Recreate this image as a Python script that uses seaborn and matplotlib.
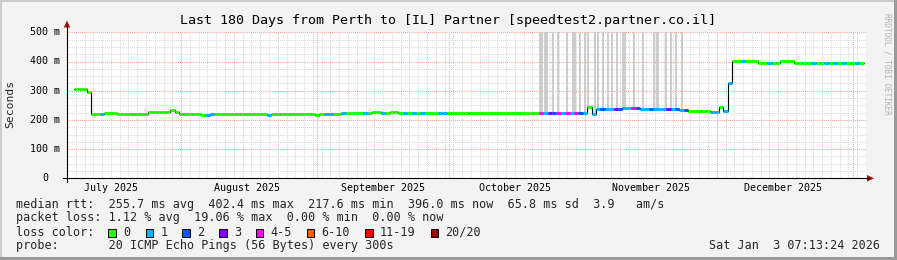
import numpy as np
import pandas as pd
import matplotlib
matplotlib.use("Agg")
import matplotlib.pyplot as plt
import matplotlib.dates as mdates
from matplotlib.patches import Rectangle, Polygon
from matplotlib.lines import Line2D
import seaborn as sns

# ---------------- data ----------------
TITLE = "Last 180 Days from Perth to [IL] Partner [speedtest2.partner.co.il]"
START = "2025-07-07 12:00"
N_DAYS = 180

# median RTT (ms) as runs: number of days, value
med_run_days = [3, 1, 3, 3, 7, 5, 1, 1, 5, 2, 13, 1, 10, 1, 5,
                2, 1, 2, 1, 1, 2, 2, 2, 1, 1, 5,
                20, 16, 1, 1, 6, 4, 9, 2, 5, 2, 1, 1, 1, 6, 5, 3, 16]
med_run_ms = [306, 297, 220, 225, 220, 226, 233, 226, 221, 217, 221, 217, 221, 217, 221,
              225, 222, 225, 222, 225, 226, 222, 226, 222, 225, 222,
              222, 224, 245, 220, 236, 240, 236, 234, 231, 228, 244, 231, 326, 403, 395, 403, 396]

# packet-loss class per day as runs: number of days, class index
loss_run_days = [6, 1, 23, 2, 12, 1, 12, 2, 2, 1, 4, 1, 3, 1, 4, 1, 1, 1, 1, 1, 3, 2, 21,
                 1, 1, 1, 1, 1, 1, 1, 1, 1, 1, 1, 1,
                 2, 1, 2, 1, 1, 2, 1, 1, 2, 1, 3, 1, 1, 1, 1, 1,
                 5, 2, 1, 2, 2, 1, 5, 1, 9, 1, 2, 1, 1, 1, 1, 1, 2, 1, 1]
loss_run_cls = [0, 1, 0, 1, 0, 1, 0, 1, 0, 1, 0, 1, 0, 1, 0, 1, 0, 1, 0, 1, 0, 1, 0,
                4, 1, 3, 2, 4, 1, 4, 1, 4, 2, 1, 0,
                1, 2, 1, 3, 2, 1, 4, 2, 1, 2, 1, 3, 1, 2, 1, 2,
                0, 1, 0, 1, 0, 1, 0, 1, 0, 1, 0, 1, 0, 1, 0, 1, 0, 1, 0]

loss_names = ["0", "1", "2", "3", "4-5", "6-10", "11-19", "20/20"]
loss_colors = ["#26ff00", "#00b8ff", "#0059ff", "#7e00ff", "#ff00ff", "#ff5e00", "#ff0000", "#a10000"]

# smoke: single pings far above the median (days since start), reaching off the top
smoke_day = [106.2, 106.7, 107.3, 107.8, 109.1, 110.3, 112.5, 113.7, 114.3, 115.4, 116.6,
             117.2, 118.8, 119.5, 120.6, 121.7, 122.6, 123.8, 125.1, 125.6, 127.6, 129.8,
             132.3, 132.8, 133.2, 135.0, 136.1, 137.3, 138.6]
smoke_top_ms = 520

month_starts = ["2025-08-01", "2025-09-01", "2025-10-01", "2025-11-01", "2025-12-01", "2026-01-01"]
month_mids = ["2025-07-16", "2025-08-16", "2025-09-16", "2025-10-16", "2025-11-16", "2025-12-16"]
month_labels = ["July 2025", "August 2025", "September 2025", "October 2025",
                "November 2025", "December 2025"]
y_ticks = [0, 100, 200, 300, 400, 500]
y_labels = ["0", "100 m", "200 m", "300 m", "400 m", "500 m"]

rtt_line = "median rtt:  255.7 ms avg  402.4 ms max  217.6 ms min  396.0 ms now  65.8 ms sd  3.9   am/s"
loss_line = "packet loss: 1.12 % avg  19.06 % max  0.00 % min  0.00 % now"
color_head = "loss color:"
probe_line = "probe:       20 ICMP Echo Pings (56 Bytes) every 300s"
stamp = "Sat Jan  3 07:13:24 2026"
watermark = "RRDTOOL / TOBI OETIKER"

# ---------------- figure ----------------
sns.set_theme(style="white")
plt.rcParams["font.family"] = ["DejaVu Sans Mono", "DejaVu Sans"]
plt.rcParams["axes.axisbelow"] = True

W, H = 897, 260
fig = plt.figure(figsize=(W / 100, H / 100), dpi=100)
fig.patch.set_facecolor("#f3f3f3")

X0, X1, Y0, Y1 = 67, 866, 178.3, 32.3
ax = fig.add_axes([X0 / W, 1 - Y0 / H, (X1 - X0) / W, (Y0 - Y1) / H])
ax.set_facecolor("white")
for s in ax.spines.values():
    s.set_visible(False)

t0 = pd.Timestamp(START)
edges = t0 + pd.to_timedelta(np.arange(N_DAYS + 1), unit="D")
med = np.repeat(med_run_ms, med_run_days).astype(float)
loss = np.repeat(loss_run_cls, loss_run_days)

# smoke
sm_t = mdates.date2num(t0 + pd.to_timedelta(smoke_day, unit="D"))
sm_base = med[np.floor(smoke_day).astype(int)]
ax.vlines(sm_t, sm_base, smoke_top_ms, color="#c9c9c9", lw=1.3, zorder=2)

# black step outline of median
step_df = pd.DataFrame({"t": edges, "ms": np.append(med, med[-1])})
sns.lineplot(data=step_df, x="t", y="ms", drawstyle="steps-post", color="black",
             lw=0.8, estimator=None, ax=ax, zorder=3)

# loss-coloured median segments
seg = pd.DataFrame({
    "t": np.concatenate([edges[:-1], edges[1:]]),
    "ms": np.concatenate([med, med]),
    "uid": np.tile(np.arange(N_DAYS), 2),
    "loss": np.tile([loss_names[c] for c in loss], 2),
})
sns.lineplot(data=seg, x="t", y="ms", hue="loss", units="uid", estimator=None,
             palette=dict(zip(loss_names, loss_colors)), lw=2.2, legend=False,
             ax=ax, zorder=4, solid_capstyle="butt")

ax.set_xlim(mdates.date2num(t0), mdates.date2num(t0 + pd.Timedelta(days=N_DAYS)))
ax.set_ylim(0, 500)
ax.set_xlabel("")
ax.set_ylabel("")

ax.set_xticks(mdates.date2num(pd.to_datetime(month_starts)))
ax.set_xticks(mdates.date2num(pd.date_range("2025-07-06", "2026-01-05", freq="2D")), minor=True)
ax.set_xticklabels([])
ax.set_yticks(y_ticks)
ax.set_yticks(np.arange(0, 501, 25), minor=True)
ax.set_yticklabels([])
ax.grid(which="major", color="#f2a0a0", ls=(0, (1, 1)), lw=0.75)
ax.grid(which="minor", color="#d9d9d9", ls=(0, (1, 1)), lw=0.75)
ax.tick_params(which="major", length=4, direction="inout", width=0.75, color="black")
ax.tick_params(which="minor", length=2, direction="in", width=0.75, color="black")

TS = 7.2
for d, lab in zip(month_mids, month_labels):
    ax.text(mdates.date2num(pd.Timestamp(d)), -(191 - Y0) / (Y0 - Y1), lab,
            transform=ax.get_xaxis_transform(), ha="center", va="baseline", size=TS, color="black")
for v, lab in zip(y_ticks, y_labels):
    right = 59.5 if " " in lab else 48.3
    ax.text(-(X0 - right) / (X1 - X0), v, lab, transform=ax.get_yaxis_transform(),
            ha="right", va="center", size=TS, color="black")

# axis lines with arrows
def P(x, y):
    return (x / W, 1 - y / H)

fig.add_artist(Line2D([63 / W, 869 / W], [1 - Y0 / H] * 2, color="black", lw=0.8))
fig.add_artist(Line2D([X0 / W] * 2, [1 - 182 / H, 1 - 25 / H], color="black", lw=0.8))
fig.add_artist(Polygon([P(63.8, 27.5), P(70.2, 27.5), P(67, 20.5)], closed=True,
                       facecolor="#a01010", edgecolor="none"))
fig.add_artist(Polygon([P(867, 175), P(867, 181.6), P(874, Y0)], closed=True,
                       facecolor="#a01010", edgecolor="none"))

# 3D frame
fig.add_artist(Rectangle((0, 0), 2 / W, 1, facecolor="#cbcbcb", edgecolor="none"))
fig.add_artist(Rectangle((0, 1 - 2 / H), 1, 2 / H, facecolor="#cbcbcb", edgecolor="none"))
fig.add_artist(Rectangle((0, 0), 1, 3 / H, facecolor="#9a9a9a", edgecolor="none"))
fig.add_artist(Rectangle((1 - 3 / W, 0), 3 / W, 1, facecolor="#9a9a9a", edgecolor="none"))

# texts
fig.text(447.5 / W, 1 - 24 / H, TITLE, ha="center", va="baseline", size=9.6, color="black")
fig.text(10.5 / W, 1 - 104 / H, "Seconds", rotation=90, ha="center", va="center", size=8.2)
fig.text(886.5 / W, 1 - 64 / H, watermark, rotation=270, ha="center", va="center",
         size=5.6, color="#b4b4b4")

FS = 8.49
rows = [207.7, 221.5, 235.5, 249.3]
fig.text(16 / W, 1 - rows[0] / H, rtt_line, va="baseline", size=FS)
fig.text(16 / W, 1 - rows[1] / H, loss_line, va="baseline", size=FS)
fig.text(16 / W, 1 - rows[2] / H, color_head, va="baseline", size=FS)
sq_x = [108.3, 145.7, 182.3, 219, 255.7, 306.7, 365, 430.7]
for x, name, c in zip(sq_x, loss_names, loss_colors):
    fig.add_artist(Rectangle((x / W, 1 - 236.5 / H), 7.5 / W, 8 / H, facecolor=c,
                             edgecolor="black", lw=0.7))
    fig.text((x + 14.7) / W, 1 - rows[2] / H, name, va="baseline", size=FS)
fig.text(16 / W, 1 - rows[3] / H, probe_line, va="baseline", size=FS)
fig.text(880 / W, 1 - rows[3] / H, stamp, ha="right", va="baseline", size=FS)

fig.savefig("out.png", dpi=100, facecolor=fig.get_facecolor())
